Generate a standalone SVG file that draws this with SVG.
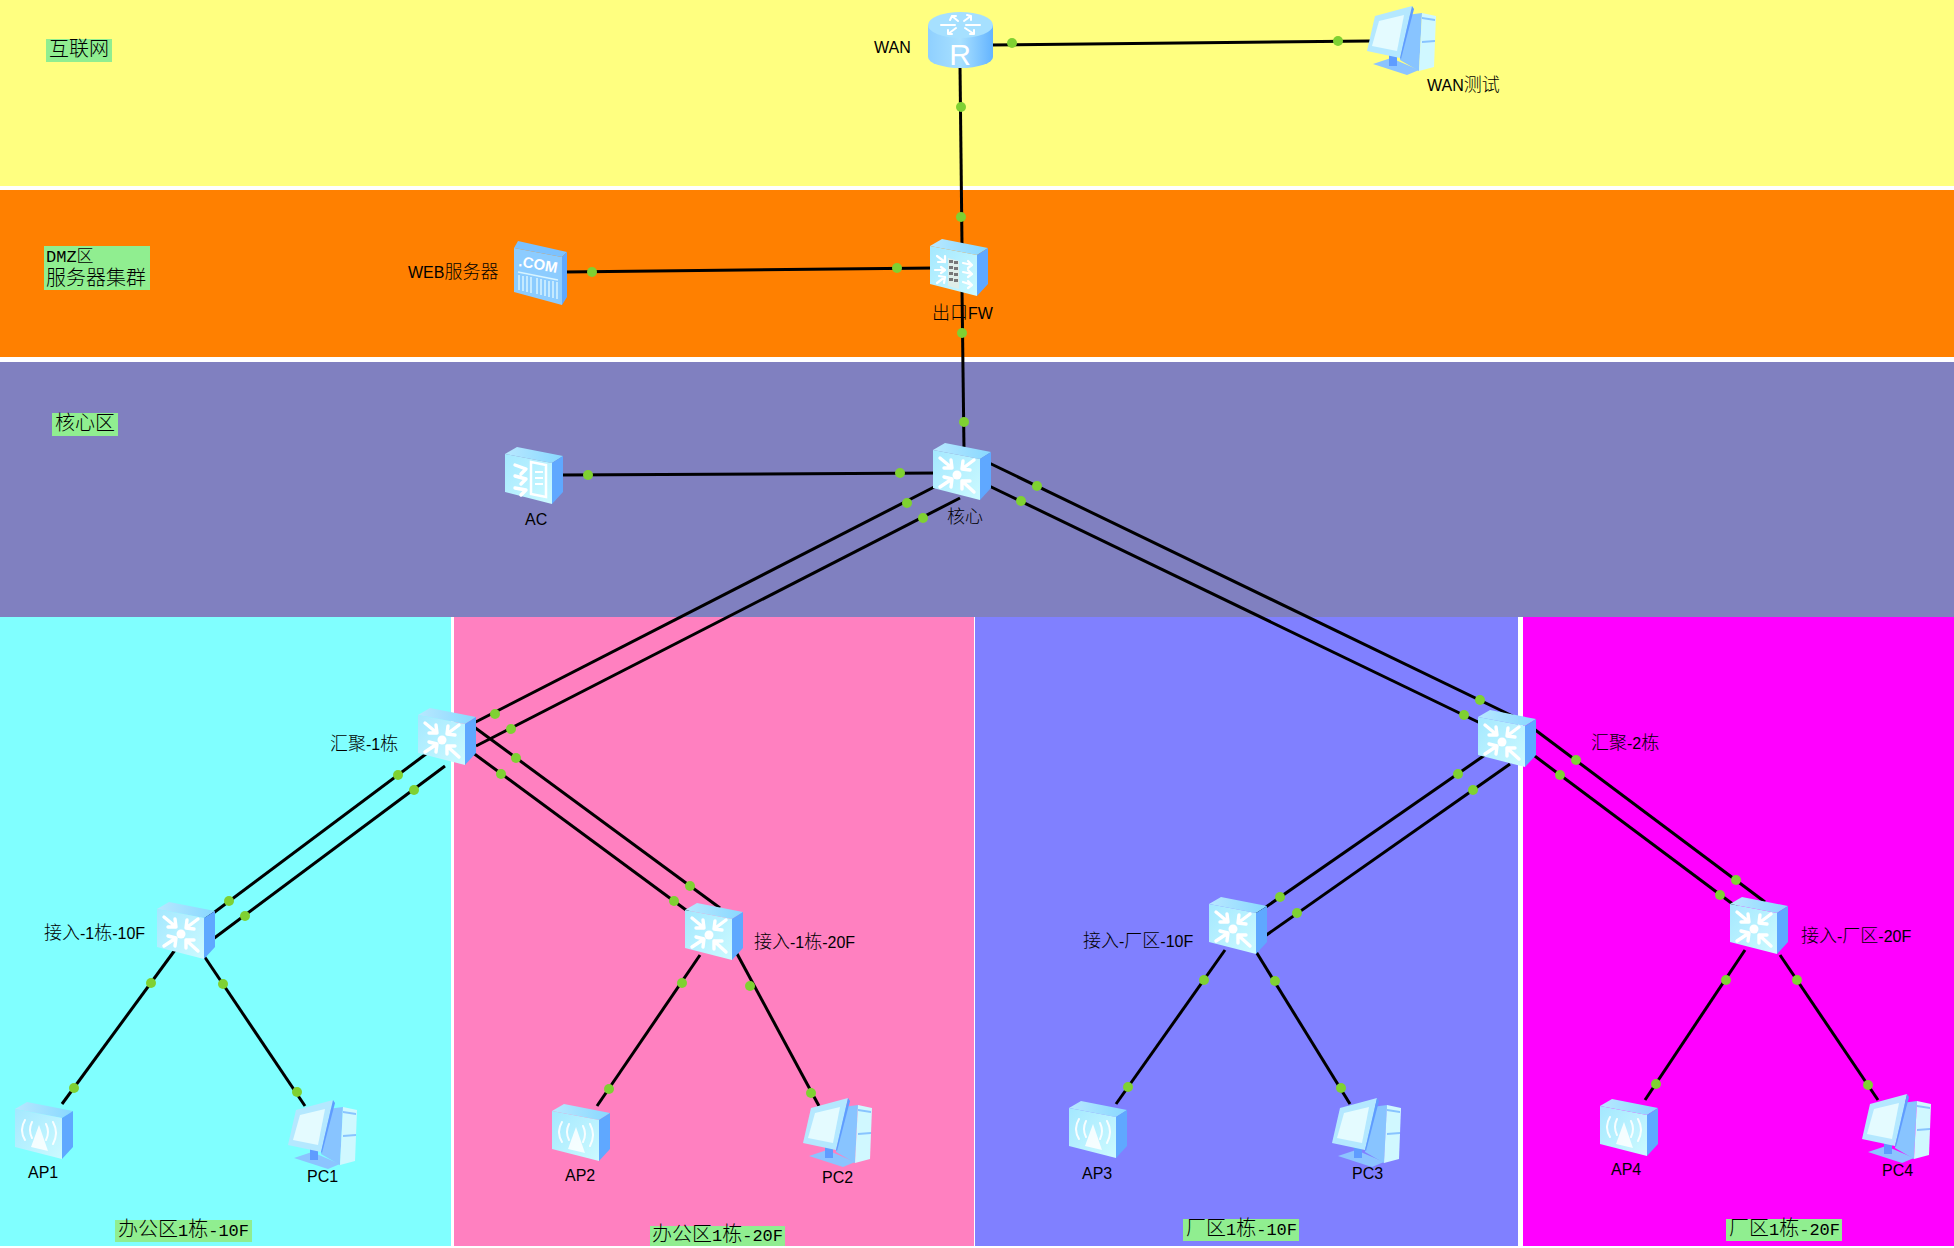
<svg xmlns="http://www.w3.org/2000/svg" width="1954" height="1248" viewBox="0 0 1954 1248">
<style>
text{font-family:"Liberation Sans","Noto Sans CJK SC",sans-serif;fill:#000;font-size:16px}
tspan.c{font-family:"Noto Sans CJK SC",sans-serif;font-size:18px;font-weight:300}
.g{fill:#90ee90}
.gt{font-family:"Liberation Mono","Noto Sans CJK SC",monospace;font-size:17px}
.gt tspan.c{font-size:20px}
#links line{stroke:#000;stroke-width:3}
#links circle{fill:#7fd132;r:5px}
.w{fill:none;stroke:#fff;stroke-width:3.4;stroke-linecap:round;stroke-linejoin:round}
.ic{font-family:"Liberation Sans",sans-serif;fill:#fff;font-weight:bold}
</style>
<defs>
<linearGradient id="front" x1="0" y1="0" x2="1" y2="1"><stop offset="0" stop-color="#a4e8ff"/><stop offset="1" stop-color="#ccfaff"/></linearGradient>
<linearGradient id="top" x1="0" y1="0" x2="1" y2="0"><stop offset="0" stop-color="#b8e8ff"/><stop offset="1" stop-color="#88d8ff"/></linearGradient>
<linearGradient id="cyl" x1="0" y1="0" x2="1" y2="0"><stop offset="0" stop-color="#8fd0ff"/><stop offset=".5" stop-color="#a8e0ff"/><stop offset="1" stop-color="#64b4ff"/></linearGradient>
<g id="box">
<polygon points="0,7 12,0 58,9 47,16" fill="url(#top)"/>
<polygon points="47,16 58,9 58,45 47,57" fill="#5fa8ff"/>
<polygon points="0,7 47,16 47,57 0,45" fill="url(#front)"/>
</g>
<g id="sw">
<use href="#box"/>
<g class="w">
<path d="M7,15 L19,25 M11,25 L19,25 L18,17"/>
<path d="M41,17 L29,26 M30,18 L29,26 L37,27"/>
<path d="M7,44 L19,36 M11,34 L19,36 L18,44"/>
<path d="M41,49 L29,38 M29,46 L29,38 L37,38"/>
</g>
<circle cx="24" cy="32" r="4.5" fill="#fff"/>
</g>
<g id="fw">
<use href="#box"/>
<g class="w" style="stroke-width:2.2">
<path d="M7,17 L15,23 M8,23 L15,23 L15,17 M5,31 L15,31 M11,28 L15,31 L11,34 M7,44 L15,38 M9,37 L15,38 L14,44"/>
<path d="M33,24 L42,26 M38,22 L42,26 L38,29 M33,33 L42,35 M38,31 L42,35 L38,38 M33,43 L42,46 M38,42 L42,46 L38,49"/>
</g>
<polygon points="18,19 29,22 29,50 18,47" fill="#dfeee8"/>
<g fill="#777">
<rect x="19" y="21" width="4" height="3"/><rect x="24" y="22" width="4" height="3"/>
<rect x="19" y="27" width="4" height="3"/><rect x="24" y="28" width="4" height="3"/>
<rect x="19" y="33" width="4" height="3"/><rect x="24" y="34" width="4" height="3"/>
<rect x="19" y="39" width="4" height="3"/><rect x="24" y="40" width="4" height="3"/>
</g>
</g>
<g id="ac">
<use href="#box"/>
<g class="w"><path d="M10,18 L21,22 L16,27 M10,29 L21,32 L16,37 M10,41 L21,43 L16,48"/></g>
<polygon points="26,15 41,18 41,50 26,47" fill="none" stroke="#fff" stroke-width="2.5"/>
<path d="M30,25 H38 M30,31 H38 M30,37 H38" stroke="#fff" stroke-width="2" fill="none"/>
</g>
<g id="ap">
<use href="#box"/>
<path d="M24,23 L16,45 L33,49 Z" fill="#fff" opacity=".85"/>
<g class="w" style="stroke-width:2" opacity=".9">
<path d="M17,20 Q13,28 17,36 M31,22 Q35,30 31,38"/>
<path d="M10,18 Q4,28 10,38 M38,20 Q44,31 38,42"/>
</g>
</g>
<g id="srv">
<polygon points="0,7 4,0 53,11 48,16" fill="#7cc2ff"/>
<polygon points="48,16 53,11 53,56 48,64" fill="#5fa8ff"/>
<polygon points="0,7 48,16 48,64 0,51" fill="#8cccff"/>
<text class="ic" x="4" y="25" style="font-size:15px" transform="rotate(10 4 25)">.COM</text>
<path d="M4,31 L44,39" stroke="#d8f4ff" stroke-width="1.5"/>
<path d="M5,34 V49 M9,35 V50 M13,35 V51 M17,36 V52 M23,37 V53 M27,38 V54 M31,39 V55 M35,40 V56 M39,40 V57 M43,41 V58" stroke="#d8f4ff" stroke-width="1.5"/>
</g>
<g id="rt">
<path d="M0,13 V45 A32.5,11 0 0 0 65,45 V13 Z" fill="url(#cyl)"/>
<ellipse cx="32.5" cy="13" rx="32.5" ry="13" fill="#a6e0ff"/>
<g class="w" style="stroke-width:2"><path d="M24,4 L30,9 M22,8 L24,4 L28,4 M43,4 L36,9 M39,3 L43,4 L43,8 M20,22 L28,16 M20,18 L20,22 L24,22 M46,22 L37,16 M46,18 L46,22 L42,22 M13,13 H27 M38,13 H52"/></g>
<text class="ic" x="32" y="53" text-anchor="middle" style="font-size:30px;font-weight:normal">R</text>
</g>
<g id="pc">
<polygon points="6,58 24,52 52,64 40,69" fill="#8cc4ff"/>
<rect x="22" y="46" width="8" height="14" fill="#5f9cff"/>
<polygon points="40,9 55,7 52,65 33,54" fill="#88c4ff"/>
<polygon points="55,7 69,10 67,61 52,65" fill="#d0f8ff"/>
<polygon points="55,11 68,13 68,15 55,13" fill="#88c4ff"/>
<polygon points="55,35 68,34 68,36 55,37" fill="#88c4ff"/>
<polygon points="8,10 45,0 33,52 0,45" fill="#b4e8ff"/>
<polygon points="45,0 47,3 34,53 33,52" fill="#5f9cff"/>
<polygon points="12,15 37,9 30,45 5,40" fill="#e4fbff"/>
</g>
</defs>

<g id="zones">
<rect width="1954" height="1248" fill="#fff"/>
<rect x="0" y="0" width="1954" height="186" fill="#ffff80"/>
<rect x="0" y="190" width="1954" height="167" fill="#ff8000"/>
<rect x="0" y="362" width="1954" height="255" fill="#8080c0"/>
<rect x="0" y="617" width="451" height="629" fill="#80ffff"/>
<rect x="454" y="617" width="520" height="629" fill="#ff80c0"/>
<rect x="975" y="617" width="543" height="629" fill="#8080ff"/>
<rect x="1523" y="617" width="431" height="629" fill="#ff00ff"/>
</g>

<g id="links">
<line x1="990" y1="45" x2="1370" y2="41"/><circle cx="1012" cy="43"/><circle cx="1338" cy="41"/>
<line x1="960" y1="66" x2="962" y2="245"/><circle cx="961" cy="107"/><circle cx="961" cy="217"/>
<line x1="565" y1="272" x2="935" y2="268"/><circle cx="592" cy="272"/><circle cx="897" cy="268"/>
<line x1="962" y1="290" x2="964" y2="450"/><circle cx="962" cy="333"/><circle cx="964" cy="422"/>
<line x1="560" y1="475" x2="940" y2="473"/><circle cx="588" cy="475"/><circle cx="900" cy="473"/>
<line x1="940" y1="484" x2="462" y2="729"/><circle cx="907" cy="503"/><circle cx="495" cy="714"/>
<line x1="960" y1="498" x2="476" y2="746"/><circle cx="923" cy="518"/><circle cx="511" cy="729"/>
<line x1="985" y1="461" x2="1525" y2="722"/><circle cx="1037" cy="486"/><circle cx="1480" cy="700"/>
<line x1="985" y1="484" x2="1505" y2="735"/><circle cx="1021" cy="501"/><circle cx="1464" cy="715"/>
<line x1="430" y1="751" x2="200" y2="923"/><circle cx="398" cy="775"/><circle cx="229" cy="901"/>
<line x1="445" y1="766" x2="205" y2="945"/><circle cx="414" cy="790"/><circle cx="245" cy="916"/>
<line x1="470" y1="724" x2="720" y2="908"/><circle cx="516" cy="758"/><circle cx="690" cy="886"/>
<line x1="465" y1="747" x2="705" y2="924"/><circle cx="501" cy="774"/><circle cx="674" cy="901"/>
<line x1="1495" y1="748" x2="1250" y2="918"/><circle cx="1458" cy="774"/><circle cx="1280" cy="897"/>
<line x1="1510" y1="764" x2="1265" y2="936"/><circle cx="1473" cy="790"/><circle cx="1297" cy="913"/>
<line x1="1530" y1="726" x2="1765" y2="902"/><circle cx="1576" cy="760"/><circle cx="1736" cy="880"/>
<line x1="1520" y1="745" x2="1750" y2="917"/><circle cx="1560" cy="775"/><circle cx="1720" cy="895"/>
<line x1="175" y1="950" x2="62" y2="1104"/><circle cx="151" cy="983"/><circle cx="74" cy="1088"/>
<line x1="200" y1="950" x2="305" y2="1106"/><circle cx="223" cy="984"/><circle cx="297" cy="1092"/>
<line x1="700" y1="955" x2="597" y2="1106"/><circle cx="682" cy="983"/><circle cx="609" cy="1089"/>
<line x1="735" y1="950" x2="819" y2="1106"/><circle cx="750" cy="986"/><circle cx="811" cy="1093"/>
<line x1="1225" y1="950" x2="1116" y2="1104"/><circle cx="1204" cy="980"/><circle cx="1128" cy="1087"/>
<line x1="1255" y1="950" x2="1350" y2="1104"/><circle cx="1275" cy="981"/><circle cx="1341" cy="1088"/>
<line x1="1745" y1="950" x2="1645" y2="1100"/><circle cx="1726" cy="980"/><circle cx="1656" cy="1084"/>
<line x1="1780" y1="955" x2="1878" y2="1100"/><circle cx="1797" cy="980"/><circle cx="1868" cy="1085"/>
</g>

<g id="node-wan"><use href="#rt" x="928" y="12"/><text x="874" y="53">WAN</text></g>
<g id="node-wantest"><use href="#pc" x="1367" y="6"/><text x="1427" y="91">WAN<tspan class="c">测试</tspan></text></g>
<g id="node-fw"><use href="#fw" x="930" y="239"/><text x="932" y="319"><tspan class="c">出口</tspan>FW</text></g>
<g id="node-web"><use href="#srv" x="514" y="241"/><text x="408" y="278">WEB<tspan class="c">服务器</tspan></text></g>
<g id="node-ac"><use href="#ac" x="505" y="447"/><text x="525" y="525">AC</text></g>
<g id="node-core"><use href="#sw" x="933" y="443"/><text x="947" y="523"><tspan class="c">核心</tspan></text></g>
<g id="node-agg1"><use href="#sw" x="418" y="708"/><text x="330" y="750"><tspan class="c">汇聚</tspan>-1<tspan class="c">栋</tspan></text></g>
<g id="node-agg2"><use href="#sw" x="1478" y="710"/><text x="1591" y="749"><tspan class="c">汇聚</tspan>-2<tspan class="c">栋</tspan></text></g>
<g id="node-acc1"><use href="#sw" x="157" y="902"/><text x="44" y="939"><tspan class="c">接入</tspan>-1<tspan class="c">栋</tspan>-10F</text></g>
<g id="node-acc2"><use href="#sw" x="685" y="903"/><text x="754" y="948"><tspan class="c">接入</tspan>-1<tspan class="c">栋</tspan>-20F</text></g>
<g id="node-acc3"><use href="#sw" x="1209" y="897"/><text x="1083" y="947"><tspan class="c">接入</tspan>-<tspan class="c">厂区</tspan>-10F</text></g>
<g id="node-acc4"><use href="#sw" x="1730" y="897"/><text x="1801" y="942"><tspan class="c">接入</tspan>-<tspan class="c">厂区</tspan>-20F</text></g>
<g id="node-ap1"><use href="#ap" x="15" y="1102"/><text x="28" y="1178">AP1</text></g>
<g id="node-pc1"><use href="#pc" x="288" y="1100"/><text x="307" y="1182">PC1</text></g>
<g id="node-ap2"><use href="#ap" x="552" y="1104"/><text x="565" y="1181">AP2</text></g>
<g id="node-pc2"><use href="#pc" x="803" y="1098"/><text x="822" y="1183">PC2</text></g>
<g id="node-ap3"><use href="#ap" x="1069" y="1101"/><text x="1082" y="1179">AP3</text></g>
<g id="node-pc3"><use href="#pc" x="1332" y="1098"/><text x="1352" y="1179">PC3</text></g>
<g id="node-ap4"><use href="#ap" x="1600" y="1099"/><text x="1611" y="1175">AP4</text></g>
<g id="node-pc4"><use href="#pc" x="1862" y="1094"/><text x="1882" y="1176">PC4</text></g>

<g id="zone-labels">
<g id="lbl-internet"><rect class="g" x="46" y="39" width="66" height="23"/><text class="gt" x="49" y="56"><tspan class="c">互联网</tspan></text></g>
<g id="lbl-dmz"><rect class="g" x="44" y="246" width="106" height="44"/><text class="gt" x="46" y="262">DMZ<tspan class="c" style="font-size:17px">区</tspan></text><text class="gt" x="46" y="285"><tspan class="c" style="font-size:20px">服务器集群</tspan></text></g>
<g id="lbl-core"><rect class="g" x="52" y="413" width="66" height="23"/><text class="gt" x="55" y="430"><tspan class="c">核心区</tspan></text></g>
<g id="lbl-a"><rect class="g" x="115" y="1220" width="137" height="22"/><text class="gt" x="118" y="1236"><tspan class="c">办公区</tspan>1<tspan class="c">栋</tspan>-10F</text></g>
<g id="lbl-b"><rect class="g" x="650" y="1226" width="135" height="20"/><text class="gt" x="652" y="1241"><tspan class="c">办公区</tspan>1<tspan class="c">栋</tspan>-20F</text></g>
<g id="lbl-c"><rect class="g" x="1183" y="1219" width="116" height="22"/><text class="gt" x="1186" y="1235"><tspan class="c">厂区</tspan>1<tspan class="c">栋</tspan>-10F</text></g>
<g id="lbl-d"><rect class="g" x="1726" y="1219" width="116" height="22"/><text class="gt" x="1729" y="1235"><tspan class="c">厂区</tspan>1<tspan class="c">栋</tspan>-20F</text></g>
</g>
</svg>
